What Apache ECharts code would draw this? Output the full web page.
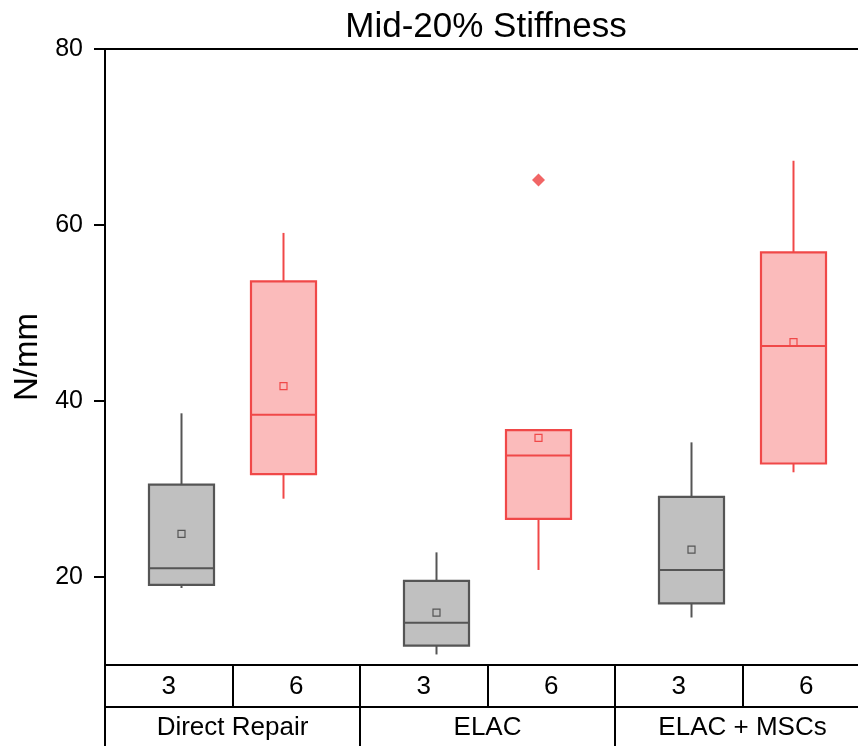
<!DOCTYPE html>
<html>
<head>
<meta charset="utf-8">
<script src="https://cdn.jsdelivr.net/npm/echarts@6/dist/echarts.min.js"></script>
<style>
  html, body { margin: 0; padding: 0; background: #fff; }
  #chart { width: 858px; height: 746px; }
</style>
</head>
<body>
<div id="chart"></div>
<script>
// groups and sub categories (weeks)
const groups = ['Direct Repair', 'ELAC', 'ELAC + MSCs'];
const weeks = ['3', '6', '3', '6', '3', '6'];
const yTicks = [20, 40, 60, 80];

// box stats per group: [low whisker, Q1, median, Q3, high whisker]
const week3Box = [
  [18.75, 19.1, 21.0, 30.5, 38.6],
  [11.2, 12.2, 14.8, 19.55, 22.8],
  [15.4, 17.0, 20.8, 29.1, 35.3]
];
const week6Box = [
  [28.9, 31.7, 38.45, 53.6, 59.1],
  [20.8, 26.6, 33.8, 36.7, 36.7],
  [31.9, 32.9, 46.25, 56.9, 67.3]
];
const week3Mean = [24.9, 15.95, 23.1];
const week6Mean = [41.7, 35.8, 46.7];
// outliers: [group index, value]
const week6Outliers = [[1, 65.1]];

const grey = { fill: '#c0c0c0', stroke: '#555555' };
const red = { fill: '#fbbbbb', stroke: '#f04848' };
const BOX_W = 0.51;   // in x units (one unit = one week cell)
const SHIFT = 0.4;

function groupX(g, side) {
  return 2 * g + 1 + side * SHIFT;
}

function boxData(list, means, side) {
  return list.map((b, g) => [groupX(g, side)].concat(b, [means[g]]));
}

function makeBoxRender(col) {
  return function (params, api) {
    const x = api.value(0);
    const w = api.size([BOX_W, 0])[0];
    const pLow = api.coord([x, api.value(1)]);
    const pQ1 = api.coord([x, api.value(2)]);
    const pMed = api.coord([x, api.value(3)]);
    const pQ3 = api.coord([x, api.value(4)]);
    const pHigh = api.coord([x, api.value(5)]);
    const pMean = api.coord([x, api.value(6)]);
    const cx = pQ1[0];
    const line = { stroke: col.stroke, lineWidth: 2 };
    return {
      type: 'group',
      children: [
        { type: 'line', shape: { x1: cx, y1: pQ3[1], x2: cx, y2: pHigh[1] }, style: line },
        { type: 'line', shape: { x1: cx, y1: pQ1[1], x2: cx, y2: pLow[1] }, style: line },
        { type: 'rect', shape: { x: cx - w / 2, y: pQ3[1], width: w, height: pQ1[1] - pQ3[1] },
          style: { fill: col.fill, stroke: col.stroke, lineWidth: 2.2 } },
        { type: 'line', shape: { x1: cx - w / 2, y1: pMed[1], x2: cx + w / 2, y2: pMed[1] }, style: line },
        { type: 'rect', shape: { x: cx - 3.5, y: pMean[1] - 3.5, width: 7, height: 7 },
          style: { fill: 'none', stroke: col.stroke, lineWidth: 1.2 } }
      ]
    };
  };
}

const chart = echarts.init(document.getElementById('chart'));
const option = {
  animation: false,
  title: {
    text: 'Mid-20% Stiffness',
    left: 481, top: 5, textAlign: 'center',
    textStyle: { fontFamily: 'Liberation Sans', fontSize: 35, fontWeight: 'normal', color: '#000' }
  },
  grid: {
    left: 105, top: 49, width: 765, height: 616,
    outerBoundsMode: 'none', containLabel: false,
    show: true, borderColor: '#000', borderWidth: 2, backgroundColor: 'transparent'
  },
  xAxis: [
    { type: 'value', min: 0, max: 6, show: false },
    {
      type: 'category', data: weeks, position: 'bottom', boundaryGap: true,
      axisLine: { show: true, lineStyle: { color: '#000', width: 2 } },
      axisTick: { show: true, interval: 0, length: 42, lineStyle: { color: '#000', width: 2 } },
      axisLabel: { interval: 0, margin: 9, fontFamily: 'Liberation Sans', fontSize: 26, color: '#000' },
      splitLine: { show: false }
    },
    {
      type: 'category', data: groups, position: 'bottom', offset: 42, boundaryGap: true,
      axisLine: { show: true, lineStyle: { color: '#000', width: 2 } },
      axisTick: { show: true, interval: 0, length: 45, lineStyle: { color: '#000', width: 2 } },
      axisLabel: { interval: 0, margin: 8, fontFamily: 'Liberation Sans', fontSize: 26, color: '#000' },
      splitLine: { show: false }
    }
  ],
  yAxis: [
    {
      type: 'value', min: 10, max: 80, interval: 10,
      name: 'N/mm', nameLocation: 'middle', nameGap: 58,
      nameTextStyle: { fontFamily: 'Liberation Sans', fontSize: 33, color: '#000' },
      axisLine: { show: true, lineStyle: { color: '#000', width: 2 } },
      axisTick: { show: true, length: 11, customValues: yTicks, lineStyle: { color: '#000', width: 2 } },
      axisLabel: { customValues: yTicks, margin: 22, fontFamily: 'Liberation Sans', fontSize: 25, color: '#000' },
      splitLine: { show: false }
    },
    {
      type: 'value', min: 10, max: 80, interval: 10,
      axisLine: { show: false },
      axisTick: { show: true, length: 5, lineStyle: { color: '#000', width: 2 } },
      axisLabel: { show: false },
      splitLine: { show: false }
    }
  ],
  series: [
    {
      type: 'custom', name: 'week 3', xAxisIndex: 0, yAxisIndex: 0,
      renderItem: makeBoxRender(grey),
      encode: { x: 0, y: [1, 2, 3, 4, 5] },
      data: boxData(week3Box, week3Mean, -1)
    },
    {
      type: 'custom', name: 'week 6', xAxisIndex: 0, yAxisIndex: 0,
      renderItem: makeBoxRender(red),
      encode: { x: 0, y: [1, 2, 3, 4, 5] },
      data: boxData(week6Box, week6Mean, 1)
    },
    {
      type: 'scatter', xAxisIndex: 0, yAxisIndex: 0,
      symbol: 'diamond', symbolSize: 13,
      itemStyle: { color: '#ee3f3f' },
      data: week6Outliers.map(o => [groupX(o[0], 1), o[1]])
    }
  ]
};
chart.setOption(option);
</script>
</body>
</html>
